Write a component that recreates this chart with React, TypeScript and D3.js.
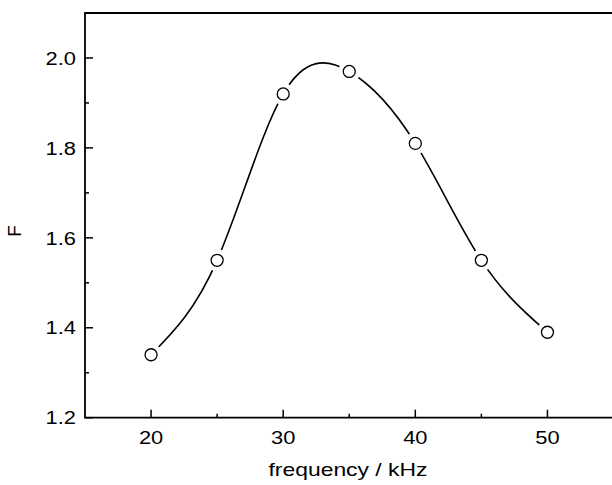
import { useEffect, useRef } from 'react';
import * as d3 from 'd3';

// frequency (kHz) and F values
const frequency = [20, 25, 30, 35, 40, 45, 50];
const fValues = [1.34, 1.55, 1.92, 1.97, 1.81, 1.55, 1.39];

const xMajorTicks = [20, 30, 40, 50];
const xMinorTicks = [25, 35, 45];
const yMajorTicks = [1.2, 1.4, 1.6, 1.8, 2.0];
const yMinorTicks = [1.3, 1.5, 1.7, 1.9];

const App = () => {
  const svgRef = useRef<SVGSVGElement | null>(null);

  useEffect(() => {
    const svg = d3.select(svgRef.current);
    svg.selectAll('*').remove();

    const left = 85;
    const right = 613.5;
    const top = 13;
    const bottom = 417.7;

    const x = d3.scaleLinear().domain([15, 55]).range([left, right]);
    const y = d3.scaleLinear().domain([1.2, 2.1]).range([bottom, top]);

    const font = '"Liberation Sans", Arial, sans-serif';
    const points = frequency.map((f, i) => ({ f, v: fValues[i] }));

    // smooth curve through the points
    const line = d3.line<{ f: number; v: number }>()
      .x(d => x(d.f))
      .y(d => y(d.v))
      .curve(d3.curveNatural);

    svg.append('path')
      .datum(points)
      .attr('d', line)
      .attr('fill', 'none')
      .attr('stroke', '#000')
      .attr('stroke-width', 1.6);

    // white halo so the line stops short of each marker
    svg.selectAll('.halo')
      .data(points)
      .enter()
      .append('circle')
      .attr('cx', d => x(d.f))
      .attr('cy', d => y(d.v))
      .attr('r', 11)
      .attr('fill', '#fff');

    svg.selectAll('.marker')
      .data(points)
      .enter()
      .append('circle')
      .attr('cx', d => x(d.f))
      .attr('cy', d => y(d.v))
      .attr('r', 6)
      .attr('fill', '#fff')
      .attr('stroke', '#000')
      .attr('stroke-width', 1.3);

    // frame: left, bottom, top
    const frame = svg.append('g')
      .attr('stroke', '#000')
      .attr('stroke-width', 1.8)
      .attr('fill', 'none');
    frame.append('path')
      .attr('d', `M${right},${top}H${left}V${bottom}H${right}`);

    // ticks (inward)
    const ticks = svg.append('g').attr('stroke', '#000').attr('stroke-width', 1.5);
    xMajorTicks.forEach(t => {
      ticks.append('line')
        .attr('x1', x(t)).attr('x2', x(t))
        .attr('y1', bottom).attr('y2', bottom - 8);
    });
    xMinorTicks.forEach(t => {
      ticks.append('line')
        .attr('x1', x(t)).attr('x2', x(t))
        .attr('y1', bottom).attr('y2', bottom - 4);
    });
    yMajorTicks.forEach(t => {
      ticks.append('line')
        .attr('x1', left).attr('x2', left + 8)
        .attr('y1', y(t)).attr('y2', y(t));
    });
    yMinorTicks.forEach(t => {
      ticks.append('line')
        .attr('x1', left).attr('x2', left + 4)
        .attr('y1', y(t)).attr('y2', y(t));
    });

    const sx = 1.15;

    // x tick labels
    xMajorTicks.forEach(t => {
      svg.append('text')
        .attr('transform', `translate(${x(t)},444) scale(${sx},1)`)
        .attr('text-anchor', 'middle')
        .style('font-family', font)
        .style('font-size', '19px')
        .text(t);
    });

    // y tick labels
    yMajorTicks.forEach(t => {
      svg.append('text')
        .attr('transform', `translate(76,${y(t) + 6.7}) scale(${sx},1)`)
        .attr('text-anchor', 'end')
        .style('font-family', font)
        .style('font-size', '19px')
        .text(d3.format('.1f')(t));
    });

    // axis titles
    svg.append('text')
      .attr('x', 348)
      .attr('y', 476)
      .attr('text-anchor', 'middle')
      .attr('textLength', 159)
      .attr('lengthAdjust', 'spacingAndGlyphs')
      .style('font-family', font)
      .style('font-size', '19px')
      .text('frequency / kHz');

    svg.append('text')
      .attr('transform', 'translate(21,231) rotate(-90)')
      .attr('text-anchor', 'middle')
      .style('font-family', font)
      .style('font-size', '19px')
      .text('F');
  }, []);

  return (
    <svg
      ref={svgRef}
      width={612}
      height={485}
      style={{ position: 'absolute', left: 0, top: 0, background: '#fff' }}
    />
  );
};

export default App;
